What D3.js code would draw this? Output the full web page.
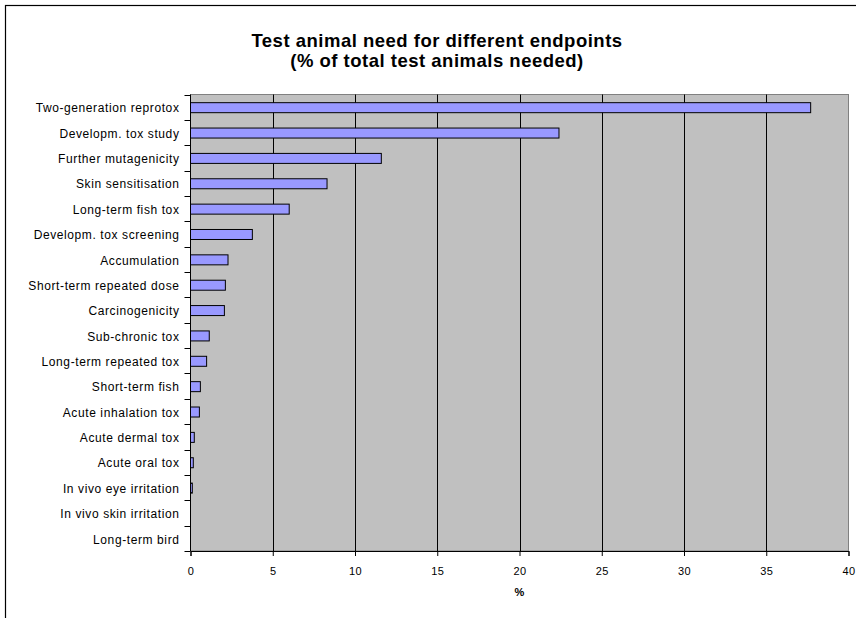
<!DOCTYPE html>
<html>
<head>
<meta charset="utf-8">
<script src="https://cdn.jsdelivr.net/npm/d3@7"></script>
<style>
  html, body { margin: 0; padding: 0; background: #fff; }
  svg { display: block; font-family: "Liberation Sans", Arial, sans-serif; }
</style>
</head>
<body>
<svg id="chart" width="856" height="618"></svg>
<script>
// Endpoint categories, top to bottom
const categories = [
  "Two-generation reprotox",
  "Developm. tox study",
  "Further mutagenicity",
  "Skin sensitisation",
  "Long-term fish tox",
  "Developm. tox screening",
  "Accumulation",
  "Short-term repeated dose",
  "Carcinogenicity",
  "Sub-chronic tox",
  "Long-term repeated tox",
  "Short-term fish",
  "Acute inhalation tox",
  "Acute dermal tox",
  "Acute oral tox",
  "In vivo eye irritation",
  "In vivo skin irritation",
  "Long-term bird"
];

// Share of total test animals needed (%)
const values = [37.7, 22.4, 11.6, 8.3, 6.0, 3.76, 2.28, 2.12, 2.06, 1.14, 0.98, 0.6, 0.54, 0.23, 0.17, 0.11, 0, 0];

const xTicks = [0, 5, 10, 15, 20, 25, 30, 35, 40];
const titleLines = ["Test animal need for different endpoints", "(% of total test animals needed)"];
const xLabel = "%";

const svg = d3.select("#chart");
const W = 856, H = 618;
const plot = { left: 190.5, right: 848.5, top: 94.5, bottom: 551 };

// Outer chart frame
svg.append("rect")
  .attr("x", 5.5).attr("y", 5.5)
  .attr("width", W).attr("height", H)
  .attr("fill", "#fff").attr("stroke", "#000").attr("stroke-width", 1.2);

// Title
const title = svg.append("text")
  .attr("text-anchor", "middle")
  .attr("font-size", 18.5).attr("font-weight", "bold")
  .attr("letter-spacing", "0.5px")
  .attr("fill", "#000");
titleLines.forEach((t, i) => {
  title.append("tspan").attr("x", 437).attr("y", 47 + i * 20).text(t);
});

const x = d3.scaleLinear().domain([0, 40]).range([plot.left, plot.right]);
const yBand = d3.scaleBand().domain(categories).range([plot.top, plot.bottom]);

// Plot background
svg.append("rect")
  .attr("x", plot.left).attr("y", plot.top)
  .attr("width", plot.right - plot.left).attr("height", plot.bottom - plot.top)
  .attr("fill", "#c0c0c0").attr("stroke", "#808080").attr("stroke-width", 1);

// Vertical gridlines
svg.append("g")
  .selectAll("line")
  .data(xTicks.filter(d => d > 0 && d < 40))
  .join("line")
  .attr("x1", d => Math.round(x(d)) + 0.5).attr("x2", d => Math.round(x(d)) + 0.5)
  .attr("y1", plot.top).attr("y2", plot.bottom)
  .attr("stroke", "#000").attr("stroke-width", 1);

// Bars
svg.append("g")
  .selectAll("rect")
  .data(categories.map((c, i) => ({ c, v: values[i] })).filter(d => d.v > 0))
  .join("rect")
  .attr("x", x(0))
  .attr("y", d => yBand(d.c) + yBand.bandwidth() / 2 - 4.5)
  .attr("width", d => x(d.v) - x(0))
  .attr("height", 10)
  .attr("fill", "#9999ff")
  .attr("stroke", "#000").attr("stroke-width", 1);

// Y axis with ticks between categories
const yAxisG = svg.append("g");
yAxisG.append("line")
  .attr("x1", plot.left).attr("x2", plot.left)
  .attr("y1", plot.top).attr("y2", plot.bottom)
  .attr("stroke", "#000").attr("stroke-width", 1);
const boundaries = categories.map(c => yBand(c)).concat([plot.bottom]);
yAxisG.selectAll("line.tick")
  .data(boundaries)
  .join("line")
  .attr("class", "tick")
  .attr("x1", plot.left - 6).attr("x2", plot.left)
  .attr("y1", d => Math.round(d) + 0.5).attr("y2", d => Math.round(d) + 0.5)
  .attr("stroke", "#000");
yAxisG.selectAll("text")
  .data(categories)
  .join("text")
  .attr("x", 179.5)
  .attr("y", d => yBand(d) + yBand.bandwidth() / 2 + 1)
  .attr("dy", "0.35em")
  .attr("text-anchor", "end")
  .attr("font-size", 12)
  .attr("letter-spacing", "0.6px")
  .attr("fill", "#000")
  .text(d => d);

// X axis
const xAxis = d3.axisBottom(x).tickValues(xTicks).tickSize(5).tickPadding(11).tickFormat(d3.format("d"));
const xAxisG = svg.append("g")
  .attr("transform", `translate(0,${plot.bottom})`)
  .call(xAxis);
xAxisG.select(".domain").attr("stroke", "#000");
xAxisG.selectAll(".tick line").attr("stroke", "#000");
xAxisG.selectAll(".tick text")
  .attr("font-size", 11)
  .attr("font-family", "Liberation Sans, Arial, sans-serif")
  .attr("letter-spacing", "0.3px")
  .attr("fill", "#000");

svg.append("text")
  .attr("x", (plot.left + plot.right) / 2)
  .attr("y", 596)
  .attr("text-anchor", "middle")
  .attr("font-size", 11)
  .attr("font-weight", "bold")
  .attr("fill", "#000")
  .text(xLabel);
</script>
</body>
</html>
